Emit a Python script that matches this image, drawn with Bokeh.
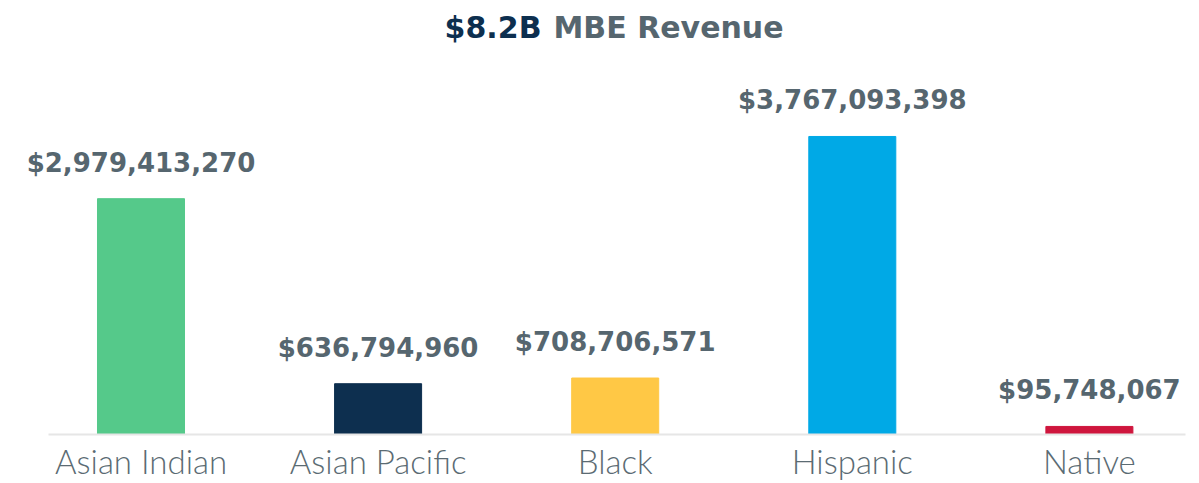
from bokeh.plotting import figure
from bokeh.models import ColumnDataSource, Range1d, FixedTicker, Label
from bokeh.core.properties import value
from bokeh.embed import file_html
from bokeh.resources import INLINE

categories = ["Asian Indian", "Asian Pacific", "Black", "Hispanic", "Native"]
revenue = [2979413270, 636794960, 708706571, 3767093398, 95748067]
colors = ["#55c98a", "#0d2f4f", "#ffc845", "#00a9e6", "#cf163d"]
title_total = "$8.2B"
title_rest = "MBE Revenue"

xs = list(range(len(categories)))
src = ColumnDataSource(dict(
    x=xs, top=revenue, color=colors,
    label=[f"${v:,}" for v in revenue],
))

W, H = 1199, 483
p = figure(width=W, height=H, output_backend="svg", toolbar_location=None,
           x_range=Range1d(-0.5926, 4.4644), y_range=Range1d(-0.6267e9, 5.4887e9),
           min_border=0)
p.outline_line_color = None
p.background_fill_color = "white"
p.border_fill_color = "white"
p.grid.visible = False
p.yaxis.visible = False

p.vbar(x="x", top="top", width=0.367, bottom=0, color="color", source=src)
p.text(x="x", y="top", text="label", source=src, text_align="center",
       text_baseline="alphabetic", y_offset=-36,
       text_font=value("DejaVu Sans"), text_font_style="bold",
       text_font_size="26px", text_color="#56666f")

ax = p.xaxis[0]
ax.fixed_location = 0
ax.bounds = (-0.390, 4.405)
ax.ticker = FixedTicker(ticks=xs)
ax.major_label_overrides = {i: c for i, c in zip(xs, categories)}
ax.major_tick_line_color = None
ax.major_tick_out = 0
ax.major_tick_in = 0
ax.minor_tick_line_color = None
ax.axis_line_color = "#e6e6e6"
ax.axis_line_width = 2
ax.major_label_standoff = 7
ax.major_label_text_font = "Lato Light"
ax.major_label_text_font_size = "33px"
ax.major_label_text_color = "#5b6b73"

p.add_layout(Label(x=541, y=H - 27, x_units="screen", y_units="screen",
                   text=title_total, text_align="right", text_baseline="alphabetic",
                   text_font="DejaVu Sans", text_font_style="bold", text_font_size="30px",
                   text_color="#0d2f4f"))
p.add_layout(Label(x=553, y=H - 27, x_units="screen", y_units="screen",
                   text=title_rest, text_align="left", text_baseline="alphabetic",
                   text_font="DejaVu Sans", text_font_style="bold", text_font_size="30px",
                   text_color="#56666f"))

open("out.html", "w").write(file_html(p, INLINE))
